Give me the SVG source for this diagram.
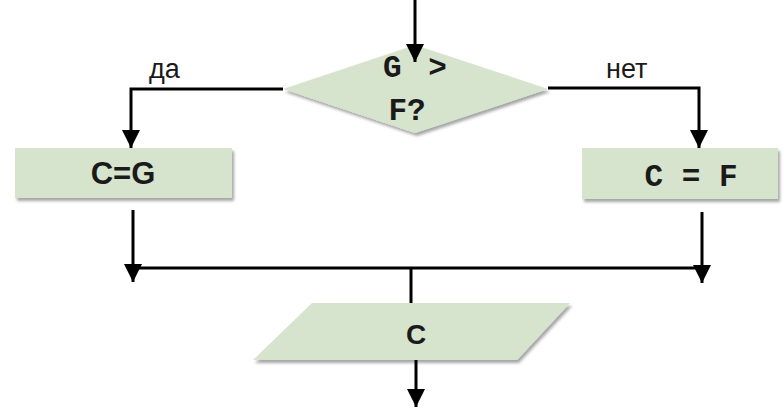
<svg xmlns="http://www.w3.org/2000/svg" width="784" height="408" viewBox="0 0 784 408">
  <defs>
    <marker id="arr" viewBox="0 0 10 10" refX="10" refY="5" markerWidth="6.5" markerHeight="6" markerUnits="strokeWidth" orient="auto">
      <path d="M0,0 L10,5 L0,10 z" fill="#000"/>
    </marker>
    <filter id="sh" x="-10%" y="-20%" width="125%" height="150%">
      <feDropShadow dx="2" dy="3" stdDeviation="1.8" flood-color="#000" flood-opacity="0.35"/>
    </filter>
  </defs>
  <style>
    .shape { fill: #d6e3cd; filter: url(#sh); }
    .mono { font-family: "Liberation Mono", "DejaVu Sans Mono", monospace; font-weight: bold; fill: #1a1a1a; }
    .sans { font-family: "Liberation Sans", Arial, sans-serif; fill: #1a1a1a; }
    .bold { font-weight: bold; }
    .line { fill: none; stroke: #000; stroke-width: 3; }
  </style>
  <rect width="784" height="408" fill="#fff"/>

  <g id="decision">
    <polygon class="shape" points="415,45 548,89 415,133 283,89"/>
    <text class="mono" x="415" y="77" font-size="31" text-anchor="middle" word-spacing="8">G &gt;</text>
    <text class="mono" x="407" y="120" font-size="31" text-anchor="middle">F?</text>
  </g>

  <g id="assign-left">
    <rect class="shape" x="15" y="148" width="217" height="50"/>
    <text class="sans bold" x="123" y="184" font-size="31" text-anchor="middle">C=G</text>
  </g>

  <g id="assign-right">
    <rect class="shape" x="582" y="148" width="196" height="51"/>
    <text class="mono" x="691" y="186" font-size="31" text-anchor="middle">C = F</text>
  </g>

  <g id="output">
    <polygon class="shape" points="312,303 570,303 517,360 253,360"/>
    <text class="sans bold" x="416" y="344" font-size="28" text-anchor="middle">C</text>
  </g>

  <g id="connectors">
    <line class="line" x1="415" y1="0" x2="415" y2="62" marker-end="url(#arr)"/>
    <polyline class="line" points="283,89 131,89 131,148" marker-end="url(#arr)"/>
    <polyline class="line" points="548,88 699,88 699,148" marker-end="url(#arr)"/>
    <line class="line" x1="133" y1="210" x2="133" y2="282" marker-end="url(#arr)"/>
    <line class="line" x1="702" y1="212" x2="702" y2="283" marker-end="url(#arr)"/>
    <line class="line" x1="133" y1="268" x2="702" y2="268"/>
    <line class="line" x1="411" y1="268" x2="411" y2="303"/>
    <line class="line" x1="416" y1="360" x2="416" y2="407" marker-end="url(#arr)"/>
    <text class="sans" x="149" y="78" font-size="27">да</text>
    <text class="sans" x="606" y="78" font-size="27">нет</text>
  </g>
</svg>
